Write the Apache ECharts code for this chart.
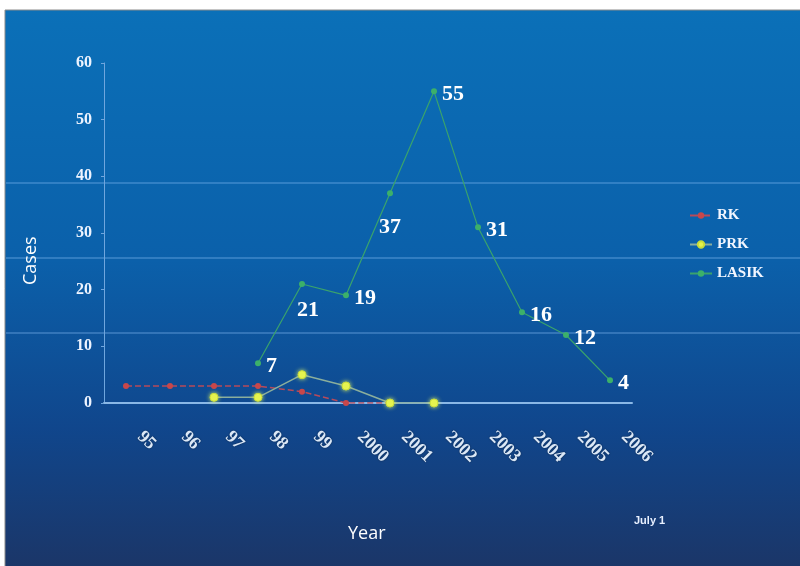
<!DOCTYPE html>
<html>
<head>
<meta charset="utf-8">
<script src="https://cdn.jsdelivr.net/npm/echarts@6/dist/echarts.min.js"></script>
<style>
html,body{margin:0;padding:0;background:#fff;}
#c{width:800px;height:566px;}
</style>
</head>
<body>
<div id="c"></div>
<script>
var years = ['95','96','97','98','99','2000','2001','2002','2003','2004','2005','2006'];
var rk    = [3, 3, 3, 3, 2, 0, 0, null, null, null, null, null];
var prk   = [null, null, 1, 1, 5, 3, 0, 0, null, null, null, null];
var lasik = [null, null, null, 7, 21, 19, 37, 55, 31, 16, 12, 4];
var yTicks = [0, 10, 20, 30, 40, 50, 60];
var belowLabels = { '99': { distance: 12, offset: [6, 0] }, '2001': { distance: 20, offset: [0, 0] } };

var chart = echarts.init(document.getElementById('c'));
var serif = '"Liberation Serif","DejaVu Serif",serif';

var lasikData = lasik.map(function (v, i) {
  var d = { value: v };
  var b = belowLabels[years[i]];
  if (b) {
    d.label = { position: 'bottom', distance: b.distance, offset: b.offset };
  }
  return d;
});

chart.setOption({
  animation: false,
  graphic: [
    { type: 'rect', z: -10, silent: true,
      shape: { x: 5, y: 10, width: 796, height: 557 },
      style: {
        fill: new echarts.graphic.LinearGradient(0, 0, 0, 1, [
          { offset: 0, color: '#0b70b8' },
          { offset: 0.45, color: '#0b60aa' },
          { offset: 0.75, color: '#10468c' },
          { offset: 1, color: '#1b3668' }
        ]),
        stroke: '#8a8a8a', lineWidth: 1
      } },
    { type: 'line', z: -9, silent: true, shape: { x1: 6, y1: 183, x2: 800, y2: 183 }, style: { stroke: 'rgba(150,200,255,0.28)', lineWidth: 2 } },
    { type: 'line', z: -9, silent: true, shape: { x1: 6, y1: 258, x2: 800, y2: 258 }, style: { stroke: 'rgba(150,200,255,0.28)', lineWidth: 2 } },
    { type: 'line', z: -9, silent: true, shape: { x1: 6, y1: 333, x2: 800, y2: 333 }, style: { stroke: 'rgba(150,200,255,0.28)', lineWidth: 2 } },
    { type: 'text', x: 22, y: 285, rotation: Math.PI / 2,
      style: { text: 'Cases', fill: '#ffffff', font: '18px "Open Sans", "Liberation Sans", sans-serif' } },
    { type: 'text', x: 348, y: 525,
      style: { text: 'Year', fill: '#ffffff', font: '18px "Open Sans", "Liberation Sans", sans-serif' } },
    { type: 'text', x: 634, y: 515,
      style: { text: 'July 1', fill: '#e8f0ff', font: 'bold 11px "Liberation Sans Narrow","Liberation Sans", sans-serif' } }
  ],
  legend: {
    orient: 'vertical',
    left: 684, top: 203,
    itemWidth: 22, itemHeight: 8, itemGap: 14,
    textStyle: { color: '#f2f6ff', fontFamily: serif, fontWeight: 'bold', fontSize: 15 },
    data: ['RK', 'PRK', 'LASIK']
  },
  grid: { left: 104, right: 168, top: 63, bottom: 163 },
  xAxis: {
    type: 'category',
    data: years,
    boundaryGap: true,
    axisLine: { lineStyle: { color: '#8ab8e6', width: 2 } },
    axisTick: { lineStyle: { color: '#8ab8e6' }, length: 4 },
    axisLabel: {
      rotate: -45, margin: 17, padding: [0, 0, 0, 20],
      color: '#dbe8f7', fontFamily: serif, fontWeight: 'bold', fontSize: 18,
      textShadowColor: 'rgba(0,0,0,0.5)', textShadowBlur: 2
    },
    splitLine: { show: false }
  },
  yAxis: {
    type: 'value', min: 0, max: 60, interval: 10,
    axisLine: { show: true, lineStyle: { color: '#6fa6de', width: 1 } },
    axisTick: { show: true, length: 3, lineStyle: { color: '#6fa6de' } },
    axisLabel: {
      margin: 12,
      color: '#eef4ff', fontFamily: serif, fontWeight: 'bold', fontSize: 16,
      formatter: function (v) { return yTicks.indexOf(v) >= 0 ? String(v) : ''; }
    },
    splitLine: { show: false }
  },
  series: [
    {
      name: 'RK', type: 'line', data: rk,
      symbol: 'circle', symbolSize: 6,
      itemStyle: { color: '#c8474a' },
      lineStyle: { color: '#b84a5a', type: 'dashed', width: 1.5 }
    },
    {
      name: 'PRK', type: 'line', data: prk,
      symbol: 'circle', symbolSize: 8,
      itemStyle: { color: '#e6f24c', borderColor: '#c8dc3a', borderWidth: 1, shadowColor: 'rgba(230,255,100,0.8)', shadowBlur: 4 },
      lineStyle: { color: '#8aae9c', width: 1.5 }
    },
    {
      name: 'LASIK', type: 'line', data: lasikData,
      symbol: 'circle', symbolSize: 6,
      itemStyle: { color: '#3cb06a' },
      lineStyle: { color: '#3aa36c', width: 1.2 },
      label: {
        show: true, position: 'right', distance: 5, offset: [0, 3],
        color: '#ffffff', fontFamily: serif, fontWeight: 'bold', fontSize: 22
      }
    }
  ]
});
</script>
</body>
</html>
